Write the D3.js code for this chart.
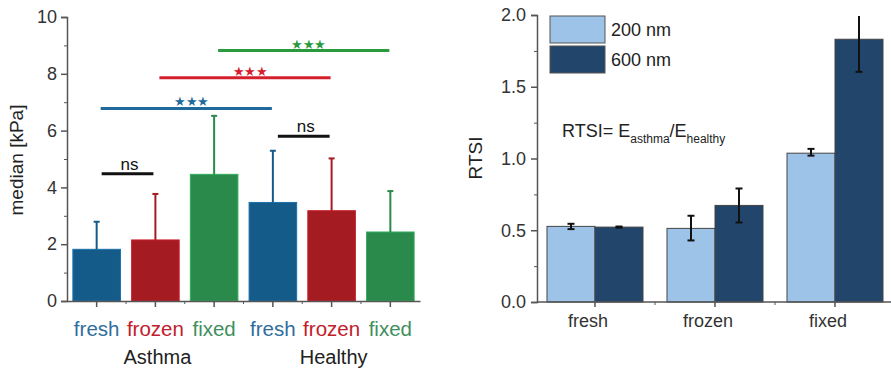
<!DOCTYPE html>
<html>
<head>
<meta charset="utf-8">
<script src="https://cdn.jsdelivr.net/npm/d3@7/dist/d3.min.js"></script>
<style>
  body { margin: 0; background: #fff; }
  svg { display: block; }
  text { font-family: "Liberation Sans", Arial, sans-serif; }
</style>
</head>
<body>
<svg width="891" height="371"></svg>
<script>
// links: mediaan per conditie
var groups = ["Asthma", "Healthy"];
var conditions = ["fresh", "frozen", "fixed"];
var medianValues = [1.82, 2.15, 4.46, 3.47, 3.18, 2.43];
var medianErrors = [0.97, 1.62, 2.06, 1.82, 1.84, 1.44];
var leftTicks = [0, 2, 4, 6, 8, 10];
// significantie: [van, tot, hoogte, label]
var sigFrom = [0, 3, 0, 1, 2];
var sigTo = [1, 4, 3, 4, 5];
var sigLevel = [4.48, 5.8, 6.78, 7.86, 8.82];
var sigLabel = ["ns", "ns", "***", "***", "***"];

// rechts: RTSI
var sizes = ["200 nm", "600 nm"];
var rtsi200 = [0.527, 0.513, 1.037];
var rtsi600 = [0.522, 0.673, 1.831];
var rtsi200Low = [0.508, 0.429, 1.020];
var rtsi200High = [0.545, 0.601, 1.067];
var rtsi600Low = [0.518, 0.554, 1.604];
var rtsi600High = [0.526, 0.791, 2.02];
var rightTicks = [0, 0.5, 1.0, 1.5, 2.0];

var condColor = {fresh: "#155b8a", frozen: "#a41b22", fixed: "#2a8a4c"};
var labelColor = {fresh: "#2f6e9c", frozen: "#c1202b", fixed: "#3f8f5e"};
var sigColor = ["#111", "#111", "#1f6a9a", "#d4202c", "#2a9a3e"];

var svg = d3.select("svg");
var axisGrey = "#555";

// ---------- linker grafiek ----------
var labels = [];
groups.forEach(function(g) { conditions.forEach(function(c) { labels.push(g + "-" + c); }); });

var x1 = d3.scaleBand().domain(labels).range([67, 420]).paddingInner(0.19).paddingOuter(0.1);
var y1 = d3.scaleLinear().domain([0, 10]).range([301, 17]);

var left = svg.append("g");

// bars
left.selectAll(".bar")
  .data(medianValues)
  .enter().append("rect")
  .attr("x", function(d, i) { return x1(labels[i]); })
  .attr("y", function(d) { return y1(d); })
  .attr("width", x1.bandwidth())
  .attr("height", function(d) { return y1(0) - y1(d); })
  .attr("fill", function(d, i) { return condColor[conditions[i % 3]]; })
  .attr("stroke", function(d, i) { return d3.color(condColor[conditions[i % 3]]).brighter(0.6); })
  .attr("stroke-width", 1);

// error bars (alleen naar boven)
medianValues.forEach(function(v, i) {
  var cx = x1(labels[i]) + x1.bandwidth() / 2;
  var col = condColor[conditions[i % 3]];
  left.append("line").attr("x1", cx).attr("x2", cx)
    .attr("y1", y1(v)).attr("y2", y1(v + medianErrors[i]))
    .attr("stroke", col).attr("stroke-width", 2);
  left.append("line").attr("x1", cx - 3).attr("x2", cx + 3)
    .attr("y1", y1(v + medianErrors[i])).attr("y2", y1(v + medianErrors[i]))
    .attr("stroke", col).attr("stroke-width", 2);
});

// y-as
var yAxisL = left.append("g")
  .attr("transform", "translate(67,0)")
  .call(d3.axisLeft(y1).tickValues(leftTicks).tickSize(6).tickFormat(d3.format("d")));
yAxisL.selectAll("text").attr("font-size", "18px").attr("fill", "#333").attr("x", -10);
yAxisL.selectAll("line").attr("stroke", axisGrey).attr("stroke-width", 1.5);
yAxisL.select(".domain").attr("stroke", axisGrey).attr("stroke-width", 1.5);
left.append("g").attr("transform", "translate(67,0)")
  .call(d3.axisLeft(y1).tickValues([1, 3, 5, 7, 9]).tickSize(3).tickFormat(""))
  .call(function(g) { g.select(".domain").remove(); g.selectAll("line").attr("stroke", axisGrey); });

// x-as
var xAxisL = left.append("g")
  .attr("transform", "translate(0,301)")
  .call(d3.axisBottom(x1).tickSize(6).tickSizeOuter(0).tickFormat(""));
xAxisL.select(".domain").attr("stroke", axisGrey).attr("stroke-width", 1.5);
xAxisL.selectAll("line").attr("stroke", axisGrey).attr("stroke-width", 1.5);
labels.slice(0, 5).forEach(function(l, i) {
  var xm = (x1(labels[i]) + x1.bandwidth() + x1(labels[i + 1])) / 2;
  left.append("line").attr("x1", xm).attr("x2", xm).attr("y1", 301).attr("y2", 304)
    .attr("stroke", axisGrey);
});

// conditie-labels
left.selectAll(".cond")
  .data(labels)
  .enter().append("text")
  .attr("x", function(d) { return x1(d) + x1.bandwidth() / 2; })
  .attr("y", 336)
  .attr("text-anchor", "middle")
  .attr("font-family", "'Open Sans', sans-serif")
  .attr("font-size", "20.5px")
  .attr("fill", function(d) { return labelColor[d.split("-")[1]]; })
  .text(function(d) { return d.split("-")[1]; });

groups.forEach(function(g, gi) {
  var a = x1(labels[gi * 3]), b = x1(labels[gi * 3 + 2]) + x1.bandwidth();
  left.append("text")
    .attr("x", (a + b) / 2 + 2)
    .attr("y", 364)
    .attr("text-anchor", "middle")
    .attr("font-family", "'Open Sans', sans-serif")
    .attr("font-size", "20px")
    .attr("fill", "#222")
    .text(g);
});

left.append("text")
  .attr("transform", "translate(23,160) rotate(-90)")
  .attr("text-anchor", "middle")
  .attr("font-size", "19px")
  .attr("fill", "#222")
  .text("median [kPa]");

// significantie lijnen
sigFrom.forEach(function(f, i) {
  var a = x1(labels[f]) + x1.bandwidth() / 2 + 4;
  var b = x1(labels[sigTo[i]]) + x1.bandwidth() / 2 - 1;
  if (sigLabel[i] === "ns") { a = a + 1; b = b - 1; }
  left.append("line").attr("x1", a).attr("x2", b)
    .attr("y1", y1(sigLevel[i])).attr("y2", y1(sigLevel[i]))
    .attr("stroke", sigColor[i]).attr("stroke-width", 3);
  var ns = sigLabel[i] === "ns";
  left.append("text")
    .attr("x", (a + b) / 2 + (ns ? 2 : 5))
    .attr("y", y1(sigLevel[i]) - (ns ? 4 : 2))
    .attr("text-anchor", "middle")
    .attr("font-family", ns ? "'Open Sans', sans-serif" : "'DejaVu Sans', sans-serif")
    .attr("font-size", ns ? "17px" : "13px")
    .attr("letter-spacing", ns ? "0px" : "-0.5px")
    .attr("fill", sigColor[i])
    .text(ns ? "ns" : "\u2605\u2605\u2605");
});

// ---------- rechter grafiek ----------
var x2 = d3.scaleBand().domain(conditions).range([535, 895]).paddingInner(0.2).paddingOuter(0.1);
var xs = d3.scaleBand().domain(sizes).range([0, x2.bandwidth()]);
var y2 = d3.scaleLinear().domain([0, 2]).range([302, 15]);
var sizeColor = {"200 nm": "#9ec3e8", "600 nm": "#22466b"};

var right = svg.append("g");

var bars = [];
conditions.forEach(function(c, i) {
  bars.push({cond: c, size: "200 nm", v: rtsi200[i], lo: rtsi200Low[i], hi: rtsi200High[i]});
  bars.push({cond: c, size: "600 nm", v: rtsi600[i], lo: rtsi600Low[i], hi: rtsi600High[i]});
});
function bx(d) { return x2(d.cond) + xs(d.size); }
function bc(d) { return bx(d) + xs.bandwidth() / 2; }

right.selectAll(".rbar").data(bars).enter().append("rect")
  .attr("x", bx)
  .attr("y", function(d) { return y2(d.v); })
  .attr("width", xs.bandwidth())
  .attr("height", function(d) { return y2(0) - y2(d.v); })
  .attr("fill", function(d) { return sizeColor[d.size]; })
  .attr("stroke", "#444")
  .attr("stroke-width", 1);

svg.append("clipPath").attr("id", "plotclip")
  .append("rect").attr("x", 530).attr("y", y2(2) + 1).attr("width", 361).attr("height", 300);

var errs = right.append("g").attr("clip-path", "url(#plotclip)");
errs.selectAll(".ev").data(bars).enter().append("line")
  .attr("x1", bc).attr("x2", bc)
  .attr("y1", function(d) { return y2(d.lo); })
  .attr("y2", function(d) { return y2(d.hi); })
  .attr("stroke", "#111").attr("stroke-width", 2);
["lo", "hi"].forEach(function(k) {
  errs.selectAll(".cap-" + k).data(bars).enter().append("line")
    .attr("x1", function(d) { return bc(d) - 3.5; })
    .attr("x2", function(d) { return bc(d) + 3.5; })
    .attr("y1", function(d) { return y2(d[k]); })
    .attr("y2", function(d) { return y2(d[k]); })
    .attr("stroke", "#111").attr("stroke-width", 2);
});

// y-as rechts
var yAxisR = right.append("g")
  .attr("transform", "translate(537,0)")
  .call(d3.axisLeft(y2).tickValues(rightTicks).tickSize(6).tickFormat(d3.format(".1f")));
yAxisR.selectAll("text").attr("font-size", "18px").attr("fill", "#333").attr("x", -11);
yAxisR.selectAll("line").attr("stroke", axisGrey).attr("stroke-width", 1.5);
yAxisR.select(".domain").attr("stroke", axisGrey).attr("stroke-width", 1.5);
right.append("g").attr("transform", "translate(537,0)")
  .call(d3.axisLeft(y2).tickValues([0.25, 0.75, 1.25, 1.75]).tickSize(3).tickFormat(""))
  .call(function(g) { g.select(".domain").remove(); g.selectAll("line").attr("stroke", axisGrey); });

// x-as rechts
var xAxisR = right.append("g")
  .attr("transform", "translate(0,302)")
  .call(d3.axisBottom(x2).tickSize(5).tickSizeOuter(0).tickFormat(""));
xAxisR.select(".domain").attr("d", "M537,0H891").attr("stroke", axisGrey).attr("stroke-width", 1.5);
xAxisR.selectAll("line").attr("stroke", axisGrey).attr("stroke-width", 1.5);
conditions.slice(0, 2).forEach(function(c, i) {
  var xm = (x2(c) + x2.bandwidth() + x2(conditions[i + 1])) / 2;
  right.append("line").attr("x1", xm).attr("x2", xm).attr("y1", 302).attr("y2", 305)
    .attr("stroke", axisGrey);
});

right.selectAll(".xl").data(conditions).enter().append("text")
  .attr("x", function(d) { return x2(d) + x2.bandwidth() / 2 - 7; })
  .attr("y", 327)
  .attr("text-anchor", "middle")
  .attr("font-size", "18px")
  .attr("fill", "#333")
  .text(function(d) { return d; });

right.append("text")
  .attr("transform", "translate(482,158) rotate(-90)")
  .attr("text-anchor", "middle")
  .attr("font-size", "19px")
  .attr("fill", "#222")
  .text("RTSI");

// legenda
sizes.forEach(function(s, i) {
  right.append("rect")
    .attr("x", 550).attr("y", 16 + i * 30)
    .attr("width", 55).attr("height", 27)
    .attr("fill", sizeColor[s]).attr("stroke", "#555").attr("stroke-width", 1);
  right.append("text")
    .attr("x", 611).attr("y", 36 + i * 30)
    .attr("font-size", "18px").attr("fill", "#222")
    .text(s);
});

// formule
var f = right.append("text").attr("x", 562).attr("y", 137).attr("font-size", "18px").attr("fill", "#222");
f.append("tspan").text("RTSI= E");
f.append("tspan").attr("font-size", "12px").attr("dy", 6).text("asthma");
f.append("tspan").attr("dy", -6).text("/E");
f.append("tspan").attr("font-size", "12px").attr("dy", 6).text("healthy");
</script>
</body>
</html>
